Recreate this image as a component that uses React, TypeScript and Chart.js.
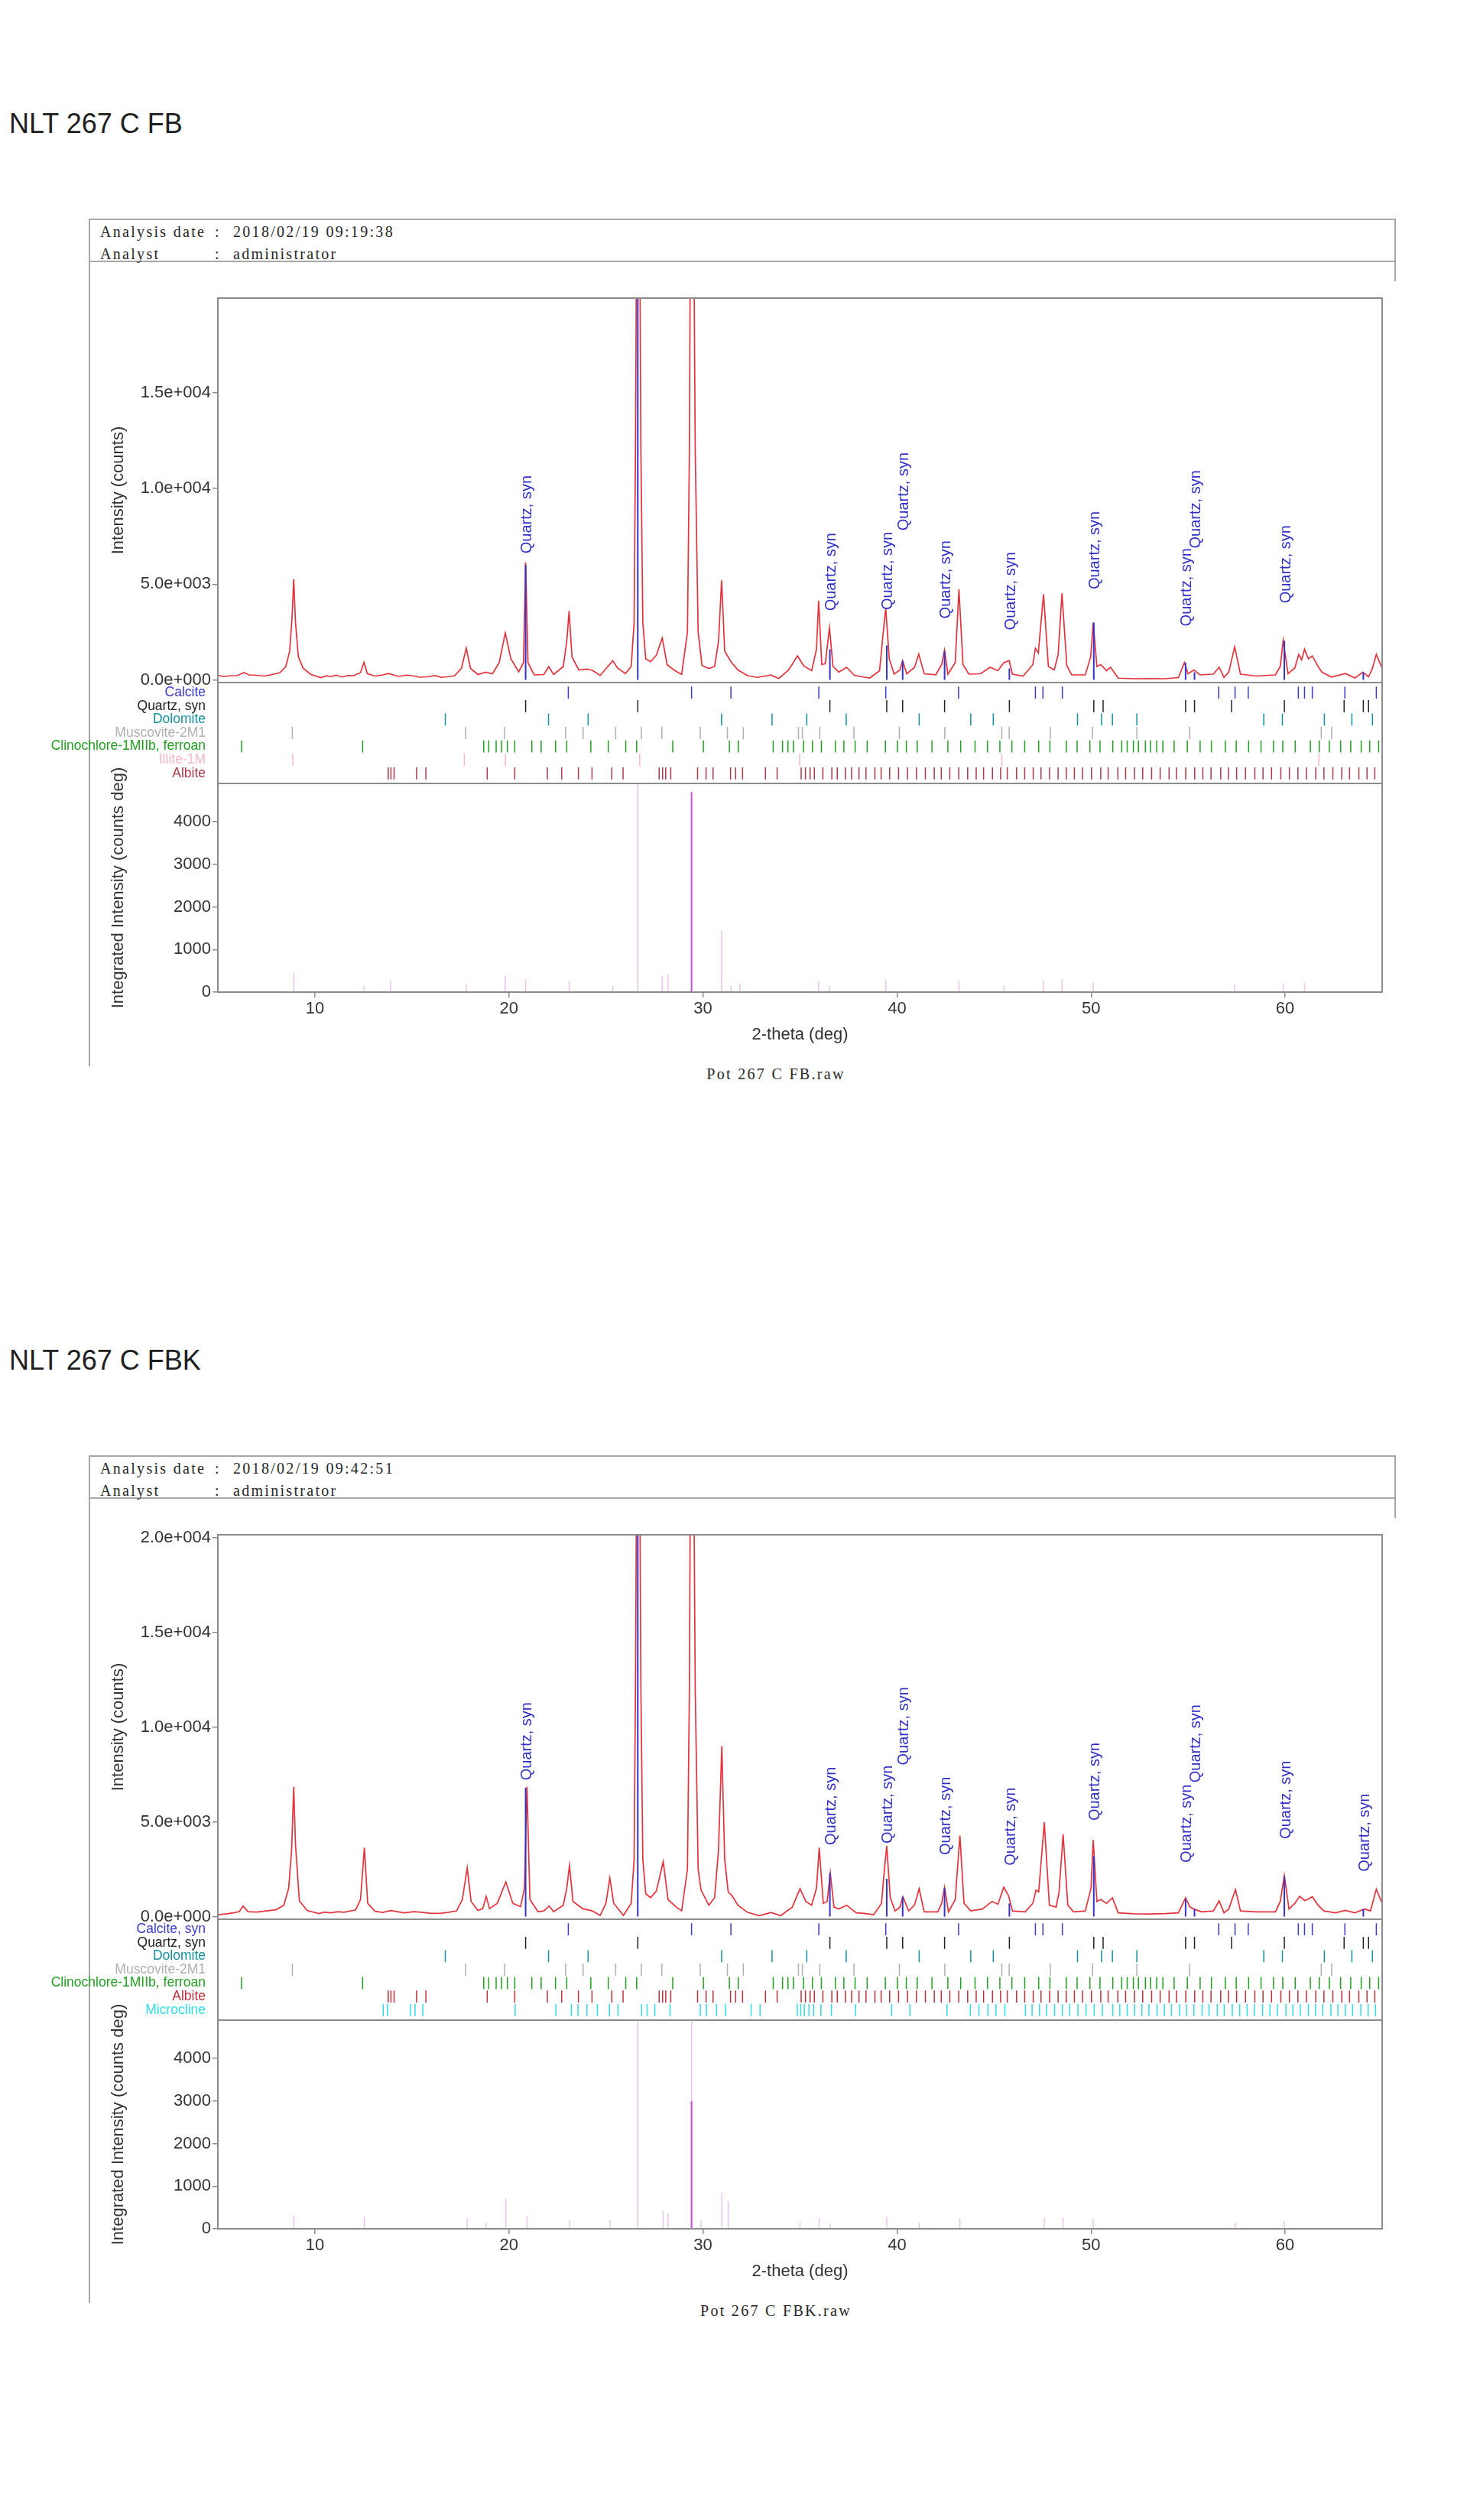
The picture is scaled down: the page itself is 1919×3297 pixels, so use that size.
import React, { useEffect, useRef } from 'react';
import { Chart, registerables } from 'chart.js';

Chart.register(...registerables);

const SANS = '"Liberation Sans", Arial, Helvetica, sans-serif';
const SERIF = '"Liberation Serif", "DejaVu Serif", serif';
Chart.defaults.font.family = SANS;

// ---------------- data ----------------
const xTickValues = [10, 20, 30, 40, 50, 60];
const fbMainTicks = [0, 5000, 10000, 15000];
const fbkMainTicks = [0, 5000, 10000, 15000, 20000];
const intTicks = [0, 1000, 2000, 3000, 4000];

// measured pattern, [2-theta, counts]
const fbScan: [number, number][] = [
  [5.0,250],[5.3,170],[5.6,210],[6.0,230],[6.35,380],[6.6,260],[7.0,240],[7.4,200],[7.8,280],[8.2,380],[8.5,700],[8.7,1500],[8.82,3200],[8.91,5270],[9.0,3000],[9.15,1200],[9.4,600],[9.8,280],[10.3,120],[10.6,210],[10.8,170],[11.1,240],[11.4,150],[11.7,230],[12.0,220],[12.35,380],[12.53,920],[12.7,330],[13.1,200],[13.5,260],[13.8,330],[14.3,180],[14.7,250],[15.0,220],[15.4,140],[15.8,160],[16.2,220],[16.5,130],[16.9,170],[17.2,220],[17.55,600],[17.8,1650],[18.02,600],[18.4,280],[18.8,400],[19.15,320],[19.5,900],[19.81,2450],[20.1,1100],[20.5,420],[20.75,900],[20.86,6140],[20.98,900],[21.3,260],[21.8,280],[22.05,690],[22.3,280],[22.8,700],[22.98,2000],[23.1,3600],[23.25,1200],[23.6,520],[24.0,560],[24.3,500],[24.7,230],[25.1,700],[25.35,1000],[25.6,620],[26.0,330],[26.3,700],[26.45,3000],[26.52,12000],[26.66,40000],[26.8,12000],[26.9,3000],[27.05,1100],[27.3,950],[27.6,1300],[27.9,2190],[28.15,800],[28.5,520],[28.9,280],[29.2,2500],[29.3,12000],[29.42,40000],[29.6,12000],[29.75,2500],[29.95,750],[30.3,600],[30.6,700],[30.8,2000],[30.96,5200],[31.12,1500],[31.44,950],[31.8,520],[32.3,220],[32.8,130],[33.5,250],[33.9,70],[34.4,500],[34.87,1250],[35.2,720],[35.6,480],[35.85,1600],[35.96,4130],[36.12,800],[36.3,850],[36.52,2720],[36.7,700],[37.0,400],[37.4,660],[37.8,240],[38.2,160],[38.6,100],[39.1,480],[39.28,2400],[39.42,3730],[39.6,1100],[39.85,300],[40.15,520],[40.29,1000],[40.5,320],[40.9,650],[41.12,1350],[41.4,320],[42.0,270],[42.3,800],[42.45,1550],[42.62,300],[43.0,900],[43.19,4730],[43.4,800],[43.7,300],[44.3,320],[44.8,660],[45.2,480],[45.5,900],[45.78,1000],[45.95,300],[46.5,200],[47.0,800],[47.13,1650],[47.28,1400],[47.55,4470],[47.8,700],[48.1,520],[48.3,1300],[48.5,4520],[48.75,750],[49.0,260],[49.7,260],[49.98,1200],[50.11,2990],[50.3,700],[50.5,800],[50.8,480],[51.0,660],[51.4,90],[52.2,60],[53.0,70],[53.8,60],[54.5,120],[54.81,900],[55.0,320],[55.3,520],[55.6,260],[56.3,300],[56.6,660],[56.85,130],[57.1,420],[57.4,1720],[57.7,300],[58.5,200],[59.5,260],[59.75,700],[59.9,2060],[60.15,320],[60.5,620],[60.7,1330],[60.85,1050],[61.0,1600],[61.2,1100],[61.4,1250],[61.7,700],[61.9,400],[62.4,150],[63.1,330],[63.6,100],[64.0,400],[64.3,160],[64.5,600],[64.7,1330],[65.0,600]
];

const fbkScan: [number, number][] = [
  [5.0,100],[5.4,140],[5.8,200],[6.1,260],[6.3,560],[6.55,260],[7.0,240],[7.5,300],[8.0,360],[8.4,600],[8.65,1500],[8.8,3500],[8.91,6860],[9.0,3800],[9.2,830],[9.6,320],[10.2,160],[10.5,240],[10.8,200],[11.2,260],[11.5,230],[12.1,350],[12.35,900],[12.55,3640],[12.72,700],[13.1,280],[13.5,220],[13.9,320],[14.3,250],[14.6,200],[15.1,260],[15.5,230],[16.0,170],[16.5,180],[16.9,230],[17.3,300],[17.6,900],[17.85,2570],[18.05,800],[18.4,320],[18.65,420],[18.83,1060],[19.0,420],[19.4,700],[19.84,1830],[20.2,700],[20.6,520],[20.8,1500],[20.93,6860],[21.08,900],[21.5,260],[21.8,300],[22.07,560],[22.3,260],[22.8,600],[22.98,1500],[23.12,2700],[23.3,800],[23.8,420],[24.3,300],[24.7,60],[25.0,700],[25.2,2030],[25.4,700],[25.9,60],[26.3,700],[26.45,3000],[26.52,12000],[26.66,40000],[26.8,12000],[26.9,3000],[27.05,1200],[27.3,1000],[27.6,1350],[27.95,2900],[28.2,900],[28.6,520],[28.9,300],[29.2,2500],[29.3,12000],[29.42,40000],[29.6,12000],[29.75,2500],[29.9,1400],[30.3,600],[30.6,1000],[30.8,3500],[30.97,9000],[31.12,3000],[31.3,1300],[31.5,1100],[31.8,600],[32.3,220],[32.9,50],[33.5,220],[34.0,50],[34.6,500],[35.0,1470],[35.3,800],[35.6,600],[35.85,1500],[35.99,3640],[36.2,700],[36.4,800],[36.56,2300],[36.75,500],[37.0,400],[37.4,600],[37.9,200],[38.3,170],[38.8,100],[39.2,700],[39.35,2500],[39.47,3730],[39.65,1000],[39.9,300],[40.15,500],[40.3,1050],[40.6,300],[40.9,600],[41.14,1470],[41.4,250],[42.1,250],[42.3,700],[42.45,1550],[42.65,250],[43.0,900],[43.24,4270],[43.45,700],[43.8,300],[44.4,400],[44.9,800],[45.2,650],[45.5,1550],[45.75,1100],[45.95,300],[46.6,250],[47.0,700],[47.16,1400],[47.3,1300],[47.59,4980],[47.85,600],[48.2,500],[48.35,1300],[48.56,4350],[48.8,600],[49.1,250],[49.7,300],[50.0,1500],[50.11,4040],[50.3,800],[50.5,900],[50.8,700],[51.1,990],[51.4,200],[52.2,150],[53.0,140],[53.8,160],[54.5,200],[54.87,990],[55.1,500],[55.3,400],[55.7,250],[56.3,300],[56.6,830],[56.85,200],[57.1,400],[57.44,1430],[57.7,300],[58.5,250],[59.5,250],[59.75,800],[59.96,2170],[60.2,400],[60.5,700],[60.75,1070],[61.0,850],[61.15,900],[61.4,1050],[61.7,600],[62.0,300],[62.6,200],[63.1,330],[63.6,200],[64.1,400],[64.4,300],[64.7,1450],[65.0,700]
];

// Quartz reference lines drawn in the pattern area
const quartzLineTheta = [20.86, 26.64, 36.54, 39.47, 40.29, 42.45, 45.79, 50.14, 54.87, 55.33, 59.96, 64.03];
const fbQuartzLineCounts = [6000, 30000, 1600, 1800, 1000, 1500, 600, 3000, 900, 400, 2050, 400];
const fbkQuartzLineCounts = [6800, 30000, 2300, 2000, 1050, 1500, 700, 3200, 900, 400, 2100, 400];

// "Quartz, syn" peak labels: position and height of label foot (counts)
const peakLabelText = 'Quartz, syn';
const fbLabelTheta = [20.86, 36.54, 39.47, 40.29, 42.45, 45.79, 50.14, 54.87, 55.33, 59.96];
const fbLabelCounts = [6600, 3600, 3650, 7800, 3200, 2600, 4730, 2800, 6870, 4000];
const fbkLabelTheta = [20.86, 36.54, 39.47, 40.29, 42.45, 45.79, 50.14, 54.87, 55.33, 59.96, 64.03];
const fbkLabelCounts = [7190, 3775, 3855, 7990, 3250, 2690, 5060, 2850, 7070, 4100, 2370];

// phase reference sticks (2-theta)
const calcitePos = [23.06, 29.41, 31.44, 35.97, 39.42, 43.17, 47.13, 47.52, 48.52, 56.58, 57.42, 58.10, 60.68, 61.00, 61.40, 63.08, 64.70];
const quartzPos = [20.86, 26.64, 36.54, 39.47, 40.29, 42.45, 45.79, 50.14, 50.62, 54.87, 55.33, 57.24, 59.96, 63.04, 64.03, 64.30];
const dolomitePos = [16.72, 22.04, 24.08, 30.96, 33.56, 35.35, 37.38, 41.14, 43.80, 44.96, 49.30, 50.54, 51.10, 52.36, 58.90, 59.86, 62.02, 63.44, 64.50];
const muscovitePos = [8.84, 17.76, 19.78, 22.92, 23.82, 25.50, 26.82, 27.88, 29.86, 31.26, 32.08, 34.92, 35.12, 36.02, 37.78, 40.12, 42.46, 45.40, 45.78, 47.90, 50.08, 52.36, 55.08, 61.86, 62.40];
const clinochlorePos = [6.22, 12.46, 18.70, 18.96, 19.34, 19.62, 19.92, 20.30, 21.18, 21.66, 22.40, 22.98, 24.22, 25.12, 26.02, 26.58, 28.44, 30.02, 31.36, 31.82, 33.62, 34.10, 34.38, 34.66, 35.18, 35.64, 36.10, 36.82, 37.26, 37.84, 38.46, 39.40, 40.02, 40.48, 41.04, 41.80, 42.62, 43.28, 44.02, 44.66, 45.30, 45.92, 46.58, 47.30, 47.88, 48.72, 49.28, 49.94, 50.46, 51.12, 51.58, 51.86, 52.18, 52.44, 52.80, 53.06, 53.38, 53.70, 54.28, 54.96, 55.62, 56.20, 56.92, 57.48, 58.12, 58.76, 59.40, 59.88, 60.52, 61.30, 61.76, 62.28, 62.86, 63.38, 63.92, 64.36, 64.82];
const illitePos = [8.86, 17.70, 19.82, 26.74, 34.98, 45.40, 61.74];
const albitePos = [13.78, 13.92, 14.08, 15.24, 15.72, 18.88, 20.30, 21.98, 22.72, 23.58, 24.28, 25.30, 25.88, 27.74, 27.92, 28.08, 28.34, 29.72, 30.16, 30.52, 31.42, 31.68, 32.04, 33.22, 33.82, 35.06, 35.28, 35.52, 35.74, 36.18, 36.64, 36.92, 37.34, 37.66, 38.04, 38.40, 38.86, 39.18, 39.62, 40.08, 40.54, 41.00, 41.46, 41.92, 42.28, 42.72, 43.18, 43.64, 44.08, 44.46, 44.92, 45.34, 45.68, 46.16, 46.58, 47.02, 47.42, 47.86, 48.30, 48.72, 49.14, 49.56, 50.02, 50.50, 50.88, 51.38, 51.78, 52.24, 52.66, 53.12, 53.56, 54.02, 54.40, 54.88, 55.34, 55.76, 56.18, 56.68, 57.08, 57.50, 57.96, 58.44, 58.86, 59.30, 59.78, 60.22, 60.66, 61.10, 61.58, 62.00, 62.46, 62.92, 63.32, 63.80, 64.22, 64.62];
const microclinePos = [13.52, 13.74, 14.92, 15.16, 15.56, 20.32, 22.42, 23.22, 23.56, 24.02, 24.56, 25.18, 25.62, 26.84, 27.12, 27.52, 28.30, 29.86, 30.18, 30.70, 31.16, 32.48, 32.94, 34.86, 35.04, 35.22, 35.46, 35.70, 36.08, 36.62, 37.86, 39.72, 40.66, 42.58, 43.78, 44.22, 44.68, 45.10, 45.56, 46.62, 46.96, 47.34, 47.70, 48.12, 48.52, 48.90, 49.32, 49.74, 50.16, 50.58, 51.12, 51.48, 51.86, 52.24, 52.62, 52.98, 53.40, 53.78, 54.14, 54.56, 54.92, 55.30, 55.72, 56.08, 56.50, 56.86, 57.28, 57.66, 58.04, 58.42, 58.84, 59.22, 59.60, 60.04, 60.40, 60.78, 61.20, 61.56, 61.94, 62.36, 62.72, 63.10, 63.48, 63.90, 64.28, 64.66];

const fbPhaseNames = ['Calcite', 'Quartz, syn', 'Dolomite', 'Muscovite-2M1', 'Clinochlore-1MIIb, ferroan', 'Illite-1M', 'Albite'];
const fbPhaseColors = ['#3b3bc9', '#222222', '#15909c', '#b0b0b0', '#22a022', '#f5b8c8', '#a83a4a'];
const fbkPhaseNames = ['Calcite, syn', 'Quartz, syn', 'Dolomite', 'Muscovite-2M1', 'Clinochlore-1MIIb, ferroan', 'Albite', 'Microcline'];
const fbkPhaseColors = ['#3b3bc9', '#222222', '#15909c', '#b0b0b0', '#22a022', '#b8323e', '#30dce4'];

// integrated intensity sticks
const fbIntTheta = [8.91, 12.53, 13.9, 17.8, 19.81, 20.86, 23.1, 25.35, 26.64, 27.9, 28.2, 30.96, 31.44, 31.9, 35.96, 36.52, 39.42, 43.19, 45.5, 47.55, 48.5, 50.11, 57.4, 59.9, 61.0];
const fbIntValues = [450, 150, 280, 200, 380, 300, 260, 150, 4900, 380, 420, 1450, 150, 200, 260, 150, 300, 250, 150, 260, 300, 220, 180, 200, 220];
const fbIntStrongTheta = [29.41];
const fbIntStrongValues = [4700];
const fbkIntTheta = [8.91, 12.55, 17.85, 18.83, 19.84, 20.93, 23.12, 25.2, 26.64, 27.95, 28.2, 29.41, 29.9, 30.97, 31.3, 35.0, 35.99, 36.56, 39.47, 41.14, 43.24, 47.59, 48.56, 50.11, 57.44, 59.96];
const fbkIntValues = [300, 280, 250, 150, 720, 300, 200, 200, 4900, 420, 350, 4900, 200, 850, 650, 150, 250, 120, 280, 150, 250, 260, 260, 240, 150, 180];
const fbkIntStrongTheta = [29.41];
const fbkIntStrongValues = [3000];

// ---------------- helpers ----------------
type Panel = {
  offset: number;
  title: string;
  date: string;
  caption: string;
  scan: [number, number][];
  mainTicks: number[];
  mainMax: number;
  quartzCounts: number[];
  labelTheta: number[];
  labelCounts: number[];
  phasePos: number[][];
  phaseNames: string[];
  phaseColors: string[];
  intTheta: number[];
  intValues: number[];
  intStrongTheta: number[];
  intStrongValues: number[];
};

const panels: Panel[] = [
  {
    offset: 0,
    title: 'NLT 267 C FB',
    date: '2018/02/19 09:19:38',
    caption: 'Pot 267 C FB.raw',
    scan: fbScan,
    mainTicks: fbMainTicks,
    mainMax: 19950,
    quartzCounts: fbQuartzLineCounts,
    labelTheta: fbLabelTheta,
    labelCounts: fbLabelCounts,
    phasePos: [calcitePos, quartzPos, dolomitePos, muscovitePos, clinochlorePos, illitePos, albitePos],
    phaseNames: fbPhaseNames,
    phaseColors: fbPhaseColors,
    intTheta: fbIntTheta,
    intValues: fbIntValues,
    intStrongTheta: fbIntStrongTheta,
    intStrongValues: fbIntStrongValues,
  },
  {
    offset: 1618,
    title: 'NLT 267 C FBK',
    date: '2018/02/19 09:42:51',
    caption: 'Pot 267 C FBK.raw',
    scan: fbkScan,
    mainTicks: fbkMainTicks,
    mainMax: 20150,
    quartzCounts: fbkQuartzLineCounts,
    labelTheta: fbkLabelTheta,
    labelCounts: fbkLabelCounts,
    phasePos: [calcitePos, quartzPos, dolomitePos, muscovitePos, clinochlorePos, albitePos, microclinePos],
    phaseNames: fbkPhaseNames,
    phaseColors: fbkPhaseColors,
    intTheta: fbkIntTheta,
    intValues: fbkIntValues,
    intStrongTheta: fbkIntStrongTheta,
    intStrongValues: fbkIntStrongValues,
  },
];

function sci(v: number): string {
  if (v === 0) return '0.0e+000';
  const e = Math.floor(Math.log10(Math.abs(v)));
  const m = v / Math.pow(10, e);
  return m.toFixed(1) + 'e+' + String(e).padStart(3, '0');
}

function sticks(pos: number[], base: number, tops: number[]) {
  const out: { x: number; y: number | null }[] = [];
  pos.forEach((p, i) => {
    out.push({ x: p, y: base }, { x: p, y: tops[i] }, { x: p, y: null });
  });
  return out;
}

function bandSticks(pos: number[], row: number) {
  const out: { x: number; y: number | null }[] = [];
  pos.forEach((p) => {
    out.push({ x: p, y: row - 0.45 }, { x: p, y: row + 0.45 }, { x: p, y: null });
  });
  return out;
}

function lineDs(data: any[], color: string, axis: string, order: number, width: number) {
  return {
    type: 'line',
    data,
    borderColor: color,
    borderWidth: width,
    pointRadius: 0,
    spanGaps: false,
    tension: 0,
    fill: false,
    yAxisID: axis,
    order,
    borderCapStyle: 'butt',
  };
}

const AXIS_COLOR = '#8c8c8c';
const TEXT_COLOR = '#333333';

function XrdChart({ p }: { p: Panel }) {
  const ref = useRef<HTMLCanvasElement>(null);
  useEffect(() => {
    const canvas = ref.current;
    if (!canvas) return;
    const datasets: any[] = [];
    datasets.push(lineDs(sticks(quartzLineTheta, 0, p.quartzCounts), '#3434c8', 'yMain', 0, 2));
    datasets.push(lineDs(p.scan.map(([x, y]) => ({ x, y })), '#e3343e', 'yMain', 1, 1.7));
    p.phasePos.forEach((pos, r) => {
      datasets.push(lineDs(bandSticks(pos, r), p.phaseColors[r], 'yBand', 2, 1.5));
    });
    datasets.push(lineDs(sticks(p.intTheta, 0, p.intValues), 'rgba(210,140,215,0.5)', 'yInt', 3, 1.5));
    datasets.push(lineDs(sticks(p.intStrongTheta, 0, p.intStrongValues), '#c44fd2', 'yInt', 2, 2));

    const framePlugin = {
      id: 'frame',
      afterDatasetsDraw(chart: any) {
        const { ctx, chartArea: a, scales } = chart;
        ctx.save();
        ctx.strokeStyle = AXIS_COLOR;
        ctx.lineWidth = 2;
        ctx.strokeRect(a.left, a.top, a.right - a.left, a.bottom - a.top);
        ['yMain', 'yBand'].forEach((id) => {
          const y = scales[id].bottom;
          ctx.beginPath();
          ctx.moveTo(a.left, y);
          ctx.lineTo(a.right, y);
          ctx.stroke();
        });
        ctx.restore();
      },
    };

    const labelPlugin = {
      id: 'peakLabels',
      afterDatasetsDraw(chart: any) {
        const { ctx, scales } = chart;
        const xs = scales.x;
        const ys = scales.yMain;
        ctx.save();
        ctx.font = `20px ${SANS}`;
        ctx.fillStyle = '#3030c6';
        ctx.textAlign = 'left';
        ctx.textBaseline = 'middle';
        p.labelTheta.forEach((t, i) => {
          const px = xs.getPixelForValue(t) + 2;
          const py = ys.getPixelForValue(p.labelCounts[i]);
          ctx.save();
          ctx.translate(px, py);
          ctx.rotate(-Math.PI / 2);
          ctx.fillText(peakLabelText, 0, 0);
          ctx.restore();
        });
        ctx.restore();
      },
    };

    const yCommon = {
      position: 'left',
      stack: 'xrd',
      border: { display: true, color: AXIS_COLOR, width: 2 },
      afterFit: (s: any) => {
        s.width = 245;
      },
    };

    const chart = new Chart(canvas, {
      type: 'line',
      data: { datasets },
      options: {
        animation: false,
        responsive: true,
        maintainAspectRatio: false,
        events: [],
        layout: { padding: { left: 0, right: 32, top: 20, bottom: 0 } },
        plugins: { legend: { display: false }, tooltip: { enabled: false } },
        scales: {
          x: {
            type: 'linear',
            position: 'bottom',
            min: 5,
            max: 65,
            afterBuildTicks: (s: any) => {
              s.ticks = xTickValues.map((v) => ({ value: v }));
            },
            ticks: { font: { size: 22 }, color: TEXT_COLOR, padding: 2, maxRotation: 0, autoSkip: false, callback: (v: any) => String(v) },
            grid: { display: true, drawOnChartArea: false, drawTicks: true, tickLength: 7, color: AXIS_COLOR, lineWidth: 1.5 },
            border: { display: true, color: AXIS_COLOR, width: 2 },
            title: { display: true, text: '2-theta (deg)', font: { size: 22 }, color: TEXT_COLOR, padding: { top: 4, bottom: 13 } },
            afterFit: (s: any) => {
              s.height = 82;
            },
          },
          yMain: {
            ...yCommon,
            type: 'linear',
            weight: 3,
            stackWeight: 503,
            min: -140,
            max: p.mainMax,
            afterBuildTicks: (s: any) => {
              s.ticks = p.mainTicks.map((v) => ({ value: v }));
            },
            ticks: { font: { size: 22 }, color: TEXT_COLOR, padding: 2, autoSkip: false, callback: (v: any) => sci(Number(v)) },
            grid: { display: true, drawOnChartArea: false, drawTicks: true, tickLength: 7, color: AXIS_COLOR, lineWidth: 1.5 },
            title: { display: true, text: 'Intensity (counts)', font: { size: 22 }, color: TEXT_COLOR, padding: { top: 102, bottom: 0 } },
          },
          yBand: {
            ...yCommon,
            type: 'linear',
            weight: 2,
            stackWeight: 132,
            min: -0.75,
            max: 6.75,
            reverse: true,
            afterBuildTicks: (s: any) => {
              s.ticks = p.phaseNames.map((_, i) => ({ value: i }));
            },
            ticks: {
              font: { size: 17.5, lineHeight: 1 },
              padding: 8,
              autoSkip: false,
              color: (c: any) => p.phaseColors[c.index] || TEXT_COLOR,
              callback: (_v: any, i: number) => p.phaseNames[i],
            },
            grid: { display: false },
            title: { display: false },
          },
          yInt: {
            ...yCommon,
            type: 'linear',
            weight: 1,
            stackWeight: 273,
            min: 0,
            max: 4900,
            afterBuildTicks: (s: any) => {
              s.ticks = intTicks.map((v) => ({ value: v }));
            },
            ticks: { font: { size: 22 }, color: TEXT_COLOR, padding: 2, autoSkip: false, callback: (v: any) => String(v) },
            grid: { display: true, drawOnChartArea: false, drawTicks: true, tickLength: 7, color: AXIS_COLOR, lineWidth: 1.5 },
            title: { display: true, text: 'Integrated Intensity (counts deg)', font: { size: 22 }, color: TEXT_COLOR, padding: { top: 102, bottom: 0 } },
          },
        },
      } as any,
      plugins: [framePlugin, labelPlugin],
    } as any);
    return () => chart.destroy();
  }, [p]);
  return <canvas ref={ref} />;
}

const BOX = '2px solid #a8a8a8';

function PanelView({ p }: { p: Panel }) {
  const o = p.offset;
  const abs = (s: React.CSSProperties): React.CSSProperties => ({ position: 'absolute', ...s });
  const headerFont: React.CSSProperties = { font: `20px ${SERIF}`, color: '#262626', lineHeight: '24px', whiteSpace: 'pre', letterSpacing: '2.3px' };
  return (
    <>
      <div style={abs({ left: 12, top: o + 141, font: `36px ${SANS}`, lineHeight: '42px', color: '#1e1e1e', whiteSpace: 'pre' })}>{p.title}</div>
      <div style={abs({ left: 116, top: o + 286, width: 1710, height: 0, borderTop: BOX })} />
      <div style={abs({ left: 116, top: o + 341, width: 1710, height: 0, borderTop: BOX })} />
      <div style={abs({ left: 116, top: o + 286, width: 0, height: 1109, borderLeft: BOX })} />
      <div style={abs({ left: 1824, top: o + 286, width: 0, height: 82, borderLeft: BOX })} />
      <div style={abs({ left: 131, top: o + 291, ...headerFont })}>Analysis date</div>
      <div style={abs({ left: 281, top: o + 291, ...headerFont })}>:</div>
      <div style={abs({ left: 305, top: o + 291, ...headerFont })}>{p.date}</div>
      <div style={abs({ left: 131, top: o + 320, ...headerFont })}>Analyst</div>
      <div style={abs({ left: 281, top: o + 320, ...headerFont })}>:</div>
      <div style={abs({ left: 305, top: o + 320, ...headerFont })}>administrator</div>
      <div style={abs({ left: 40, top: o + 370, width: 1800, height: 1010 })}>
        <XrdChart p={p} />
      </div>
      <div style={abs({ left: 815, top: o + 1393, width: 400, textAlign: 'center', ...headerFont })}>{p.caption}</div>
    </>
  );
}

export default function App() {
  return (
    <div style={{ position: 'relative', width: 1919, height: 3297, background: '#ffffff', overflow: 'hidden' }}>
      <style>{'body{margin:0;background:#fff;}'}</style>
      {panels.map((p) => (
        <PanelView key={p.title} p={p} />
      ))}
    </div>
  );
}
